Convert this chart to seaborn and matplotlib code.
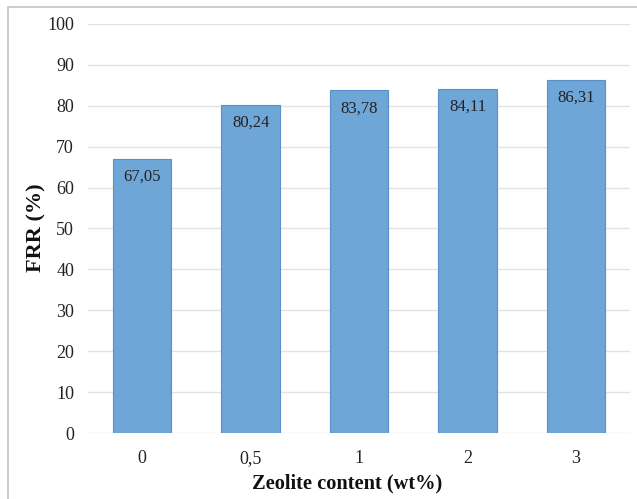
import matplotlib
matplotlib.use("Agg")
import matplotlib.pyplot as plt
import seaborn as sns
import pandas as pd
from matplotlib.patches import Rectangle

# Zeolite loading vs. flux recovery ratio
zeolite_labels = ["0", "0,5", "1", "2", "3"]
frr_values = [67.05, 80.24, 83.78, 84.11, 86.31]
value_labels = ["67,05", "80,24", "83,78", "84,11", "86,31"]
y_ticks = [0, 10, 20, 30, 40, 50, 60, 70, 80, 90, 100]

df = pd.DataFrame({"zeolite": zeolite_labels, "frr": frr_values})

sns.set_theme(style="white")
plt.rcParams["font.family"] = ["Liberation Serif", "DejaVu Serif"]

W, H = 637, 499
fig = plt.figure(figsize=(W / 100, H / 100), dpi=100)
ax = fig.add_axes([88 / W, 1 - 433 / H, (630 - 88) / W, (433 - 24) / H])

sns.barplot(data=df, x="zeolite", y="frr", order=zeolite_labels,
            color="#6fa6d8", saturation=1, width=0.54,
            edgecolor="#5a8fc8", linewidth=0.8, ax=ax, zorder=3)

ax.set_ylim(0, 100)
ax.set_xlim(-0.5, len(zeolite_labels) - 0.5)
ax.set_yticks(y_ticks)
ax.set_yticklabels([str(t) for t in y_ticks], fontsize=13, color="#222222")
ax.tick_params(axis="x", labelsize=13, colors="#222222", pad=21.5, length=0)
ax.tick_params(axis="y", pad=10, length=0)
for lab in ax.get_xticklabels():
    lab.set_verticalalignment("baseline")
for lab in ax.get_yticklabels():
    lab.set_color("#222222")

ax.grid(axis="y", color="#e3e3e3", linewidth=1.0, zorder=0)
ax.grid(axis="x", visible=False)
for s in ax.spines.values():
    s.set_visible(False)

for i, (v, txt) in enumerate(zip(frr_values, value_labels)):
    ax.annotate(txt, (i, v), xytext=(0, -13), textcoords="offset points",
                ha="center", va="center", fontsize=12, color="#222222", zorder=4)

ax.set_xlabel("")
ax.set_ylabel("")
fig.text(347 / W, 1 - 483 / H, "Zeolite content (wt%)", ha="center", va="center",
         fontsize=14.7, fontweight="bold", color="#111111")
fig.text(36 / W, 1 - 228 / H, "FRR (%)", ha="center", va="center", rotation=90,
         fontsize=16, fontweight="bold", color="#111111")

# Outer chart frame
fig.patches.append(Rectangle((7.5 / W, -0.1), 1.2, 1 - 7.5 / H + 0.1,
                             transform=fig.transFigure, fill=False,
                             edgecolor="#c4c4c4", linewidth=1.2))

fig.savefig("out.png", dpi=100, facecolor="white")
